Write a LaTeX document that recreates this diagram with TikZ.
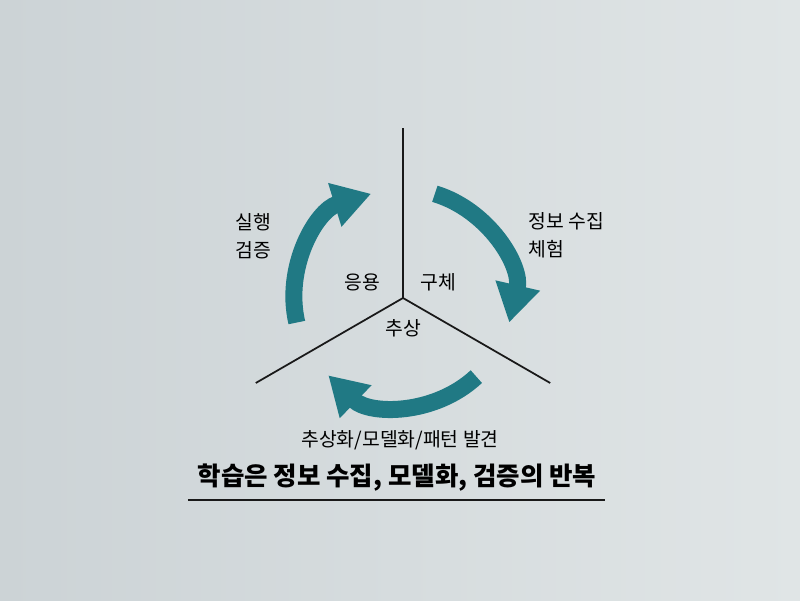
\documentclass[tikz,border=0pt]{standalone}
\usepackage{fontspec}
\usepackage{tikz}
\usetikzlibrary{arrows.meta}
\setmainfont{Noto Sans CJK KR}
\definecolor{paperL}{RGB}{204,211,214}
\definecolor{paperR}{RGB}{224,229,230}
\definecolor{cycleteal}{RGB}{32,121,132}

\begin{document}
\begin{tikzpicture}[
  spoke/.style={line width=1pt, black!90},
  cyclearrow/.style={cycleteal, line width=0.34cm,
    -{Triangle[width=0.86cm, length=0.76cm]}},
  lbl/.style={font=\fontsize{11}{16}\selectfont, text=black, inner sep=0pt},
  title/.style={font=\fontsize{14.5}{16}\selectfont\bfseries, text=black, inner sep=0pt}]
\useasboundingbox (-8.06,-6.04) rectangle (7.94,5.96);
\shade [left color=paperL, right color=paperR] (-8.06,-6.04) rectangle (7.94,5.96);

\coordinate (hub) at (0,0);
\coordinate (up) at (90:3.4);
\coordinate (lowL) at (210:3.4);
\coordinate (lowR) at (330:3.4);
\draw [spoke] (hub) -- (up);
\draw [spoke] (hub) -- (lowL);
\draw [spoke] (hub) -- (lowR);

\draw [cyclearrow] (73:2.18) arc [start angle=73, end angle=-13, radius=2.18];
\draw [cyclearrow] (193:2.18) arc [start angle=193, end angle=107, radius=2.18];
\draw [cyclearrow] (313:2.15) arc [start angle=313, end angle=226, radius=2.15];

\node [lbl] (apply) at (-0.82,0.32) {응용};
\node [lbl] (concrete) at (0.70,0.32) {구체};
\node [lbl] (abstract) at (0,-0.6) {추상};

\node [lbl, anchor=west, align=left] (verify) at (-3.36,1.24) {실행\\검증};
\node [lbl, anchor=west, align=left] (gather) at (2.5,1.26) {정보 수집\\체험};
\node [lbl] (model) at (-0.06,-2.84) {추상화/모델화/패턴 발견};

\node [title] (summary) at (-0.12,-3.6) {학습은 정보 수집, 모델화, 검증의 반복};
\draw [line width=1.2pt, black!90] (-4.3,-4.04) -- (4.04,-4.04);
\end{tikzpicture}
\end{document}
